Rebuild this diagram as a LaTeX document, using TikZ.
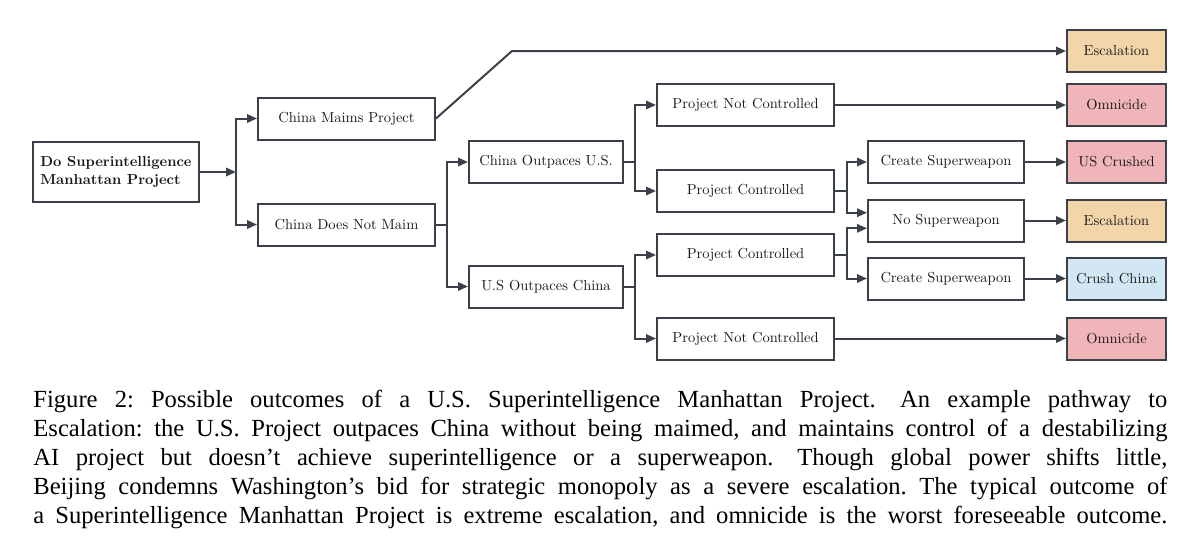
\documentclass[tikz,border=0pt]{standalone}
\usepackage{graphicx}
\usepackage{fontspec}
\newfontfamily\capfont{Liberation Serif}
\usetikzlibrary{arrows.meta}
\definecolor{lncol}{HTML}{3C4048}
\definecolor{esccol}{HTML}{F2D6AA}
\definecolor{omncol}{HTML}{F0B5B8}
\definecolor{blucol}{HTML}{D2E6F3}
\newcommand\dtxt[1]{\scalebox{0.725}{#1}}
\newcommand\sentgap{\hspace{0.3em}}
\begin{document}
\frenchspacing
\begin{tikzpicture}[x=0.5pt,y=-0.5pt,
  box/.style={draw=lncol, line width=1pt, inner sep=0pt, minimum height=21pt, text=black!90},
  wA/.style={minimum width=88.5pt},
  wB/.style={minimum width=77pt},
  wC/.style={minimum width=78pt},
  wD/.style={minimum width=49.5pt},
  esc/.style={box, wD, fill=esccol},
  omn/.style={box, wD, fill=omncol},
  blu/.style={box, wD, fill=blucol},
  arr/.style={draw=lncol, line width=1pt, -{Triangle[length=5pt,width=4.2pt]}},
  lnk/.style={draw=lncol, line width=1pt},
  capline/.style={anchor=base west, inner sep=0pt, font=\capfont\fontsize{12.3}{14.5}\selectfont}]
\useasboundingbox (0,0) rectangle (1200,559);

% nodes
\node[box, minimum width=83pt, minimum height=30pt] (root) at (116,172)
  {\dtxt{\bfseries\begin{tabular}{@{}l@{}}Do Superintelligence\\Manhattan Project\end{tabular}}};
\node[box, wA] (maim) at (346.5,118.5) {\dtxt{China Maims Project}};
\node[box, wA] (notmaim) at (346.5,224.5) {\dtxt{China Does Not Maim}};
\node[box, wB] (chinaout) at (546,162) {\dtxt{China Outpaces U.S.}};
\node[box, wB] (usout) at (546,286.5) {\dtxt{U.S Outpaces China}};
\node[box, wA] (pnc1) at (745.5,105) {\dtxt{Project Not Controlled}};
\node[box, wA] (pc1) at (745.5,191) {\dtxt{Project Controlled}};
\node[box, wA] (pc2) at (745.5,255) {\dtxt{Project Controlled}};
\node[box, wA] (pnc2) at (745.5,338.5) {\dtxt{Project Not Controlled}};
\node[box, wC] (csw1) at (946,162) {\dtxt{Create Superweapon}};
\node[box, wC] (nosw) at (946,220.5) {\dtxt{No Superweapon}};
\node[box, wC] (csw2) at (946,278.5) {\dtxt{Create Superweapon}};
\node[esc] (esc1) at (1116.5,51) {\dtxt{Escalation}};
\node[omn] (omn1) at (1116.5,105) {\dtxt{Omnicide}};
\node[omn] (uscr) at (1116.5,162) {\dtxt{US Crushed}};
\node[esc] (esc2) at (1116.5,220.5) {\dtxt{Escalation}};
\node[blu] (crush) at (1116.5,278.5) {\dtxt{Crush China}};
\node[omn] (omn2) at (1116.5,338.5) {\dtxt{Omnicide}};

% junctions
\coordinate (j1) at (236,172);
\coordinate (j2) at (447,224.5);
\coordinate (j3) at (635,162);
\coordinate (j4) at (635,286.5);
\coordinate (j5) at (847,191);
\coordinate (j6) at (847,255);
\coordinate (bend) at (512,51);

% connectors
\draw[arr] (root.east) -- (j1);
\draw[arr] (j1) |- (maim.west);
\draw[arr] (j1) |- (notmaim.west);
\draw[arr] (maim.east) -- (bend) -- (esc1.west);
\draw[lnk] (notmaim.east) -- (j2);
\draw[arr] (j2) |- (chinaout.west);
\draw[arr] (j2) |- (usout.west);
\draw[lnk] (chinaout.east) -- (j3);
\draw[arr] (j3) |- (pnc1.west);
\draw[arr] (j3) |- (pc1.west);
\draw[lnk] (usout.east) -- (j4);
\draw[arr] (j4) |- (pc2.west);
\draw[arr] (j4) |- (pnc2.west);
\draw[arr] (pnc1.east) -- (omn1.west);
\draw[arr] (pnc2.east) -- (omn2.west);
\draw[lnk] (pc1.east) -- (j5);
\draw[arr] (j5) |- (csw1.west);
\draw[arr] (j5) |- ([yshift=3.9pt]nosw.west);
\draw[lnk] (pc2.east) -- (j6);
\draw[arr] (j6) |- ([yshift=-3.9pt]nosw.west);
\draw[arr] (j6) |- (csw2.west);
\draw[arr] (csw1.east) -- (uscr.west);
\draw[arr] (nosw.east) -- (esc2.west);
\draw[arr] (csw2.east) -- (crush.west);

% caption
\node[capline] (cap1) at (33,407.5) {\makebox[567pt][s]{Figure 2: Possible outcomes of a U.S. Superintelligence Manhattan Project.\sentgap{} An example pathway to}};
\node[capline] (cap2) at (33,436.5) {\makebox[567pt][s]{Escalation: the U.S. Project outpaces China without being maimed, and maintains control of a destabilizing}};
\node[capline] (cap3) at (33,465.5) {\makebox[567pt][s]{AI project but doesn’t achieve superintelligence or a superweapon.\sentgap{} Though global power shifts little,}};
\node[capline] (cap4) at (33,494.5) {\makebox[567pt][s]{Beijing condemns Washington’s bid for strategic monopoly as a severe escalation. The typical outcome of}};
\node[capline] (cap5) at (33,523.5) {\makebox[567pt][s]{a Superintelligence Manhattan Project is extreme escalation, and omnicide is the worst foreseeable outcome.}};
\end{tikzpicture}
\end{document}
